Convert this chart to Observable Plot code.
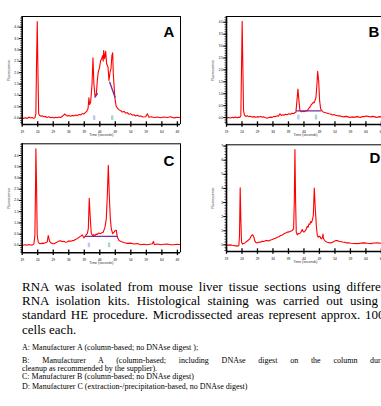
<!DOCTYPE html>
<html><head><meta charset="utf-8">
<script src="https://cdn.jsdelivr.net/npm/d3@7"></script>
<script src="https://cdn.jsdelivr.net/npm/@observablehq/plot@0.6"></script>
<style>
html,body{margin:0;padding:0;background:#fff;width:381px;height:406px;overflow:hidden}
#root{position:relative;width:440px;height:406px}
.p{position:absolute}
.txt{position:absolute;left:22px;width:369px;font-family:"Liberation Serif","Times New Roman",serif;color:#000}
.big{font-size:13px;line-height:14.2px}
.sm{font-size:8px;line-height:8px;white-space:nowrap}
.j{text-align:justify;text-align-last:justify;white-space:normal}
</style></head>
<body><div id="root"></div>
<script>
// ---------- data ----------
const xTicks = [19, 24, 29, 34, 39, 44, 49, 54, 59, 64, 69];
const yTicksABC = [0, 0.5, 1, 1.5, 2, 2.5, 3, 3.5, 4];
const yTicksD = [0, 1, 2, 3, 4, 5, 6, 7];

const timeA = [19.0,19.6,20.1,20.7,21.2,21.7,22.2,22.7,23.1,23.4,23.6,23.85,24.05,24.3,24.6,25.0,25.45,26.0,26.5,27.0,27.6,28.2,28.7,29.2,29.75,30.3,30.8,31.4,31.9,32.3,32.65,33.1,33.5,34.0,34.6,35.2,35.7,36.2,36.75,37.3,37.8,38.4,38.9,39.3,39.75,40.2,40.5,40.7,41.05,41.5,41.8,42.1,42.45,42.9,43.2,43.5,43.95,44.25,44.6,44.9,45.1,45.25,45.55,45.9,46.2,46.65,46.95,47.3,47.6,47.9,48.15,48.35,48.7,48.9,49.3,49.85,50.3,50.7,51.2,51.8,52.4,52.9,53.4,53.95,54.5,55.0,55.5,56.1,56.6,57.2,58.0,58.8,59.3,59.85,60.6,61.5,62.5,63.6,64.6,65.8,66.8,67.9,69.0,70.0];
const fluorA = [-0.03,0.0,0.02,-0.01,0.05,0.01,0.03,-0.01,0.02,0.19,2.24,4.25,2.24,0.19,0.12,0.08,0.10,0.06,0.07,0.03,0.06,0.02,0.04,0.01,0.04,0.02,0.05,0.03,0.08,0.12,0.18,0.14,0.09,0.12,0.08,0.12,0.10,0.14,0.11,0.16,0.14,0.20,0.18,0.24,0.29,0.41,0.89,0.6,0.70,1.51,2.65,1.51,0.98,1.07,1.66,2.02,2.24,2.53,2.61,2.75,2.5,2.97,2.61,2.94,2.39,2.24,1.66,2.02,2.17,2.75,2.87,1.95,1.22,0.85,0.51,0.41,0.36,0.33,0.27,0.29,0.22,0.24,0.17,0.19,0.13,0.15,0.10,0.13,0.08,0.09,0.05,0.06,0.19,0.04,0.06,0.03,0.05,0.02,0.05,0.03,0.06,0.01,0.04,0.02];

const timeB = [19.0,19.6,20.3,20.9,21.37,21.9,22.45,22.9,23.3,23.63,23.85,24.06,24.28,24.5,24.8,25.2,25.7,26.2,26.76,27.3,27.84,28.4,28.9,29.4,30.0,30.5,31.07,31.6,32.15,32.7,33.22,33.8,34.3,34.8,35.38,35.8,36.24,36.67,37.1,37.53,38.0,38.6,39.1,39.7,40.2,40.77,41.1,41.4,41.74,42.06,42.38,42.7,43.14,43.6,44.0,44.5,45.08,45.72,46.1,46.37,46.7,47.0,47.3,47.56,47.88,48.2,48.42,48.74,49.06,49.4,49.93,50.2,50.47,51.0,51.54,52.1,52.62,53.2,53.7,54.2,54.78,55.3,55.85,56.4,56.93,57.5,58.0,58.5,59.09,59.6,60.16,60.7,61.24,61.8,62.32,62.9,63.4,63.9,64.47,65.0,65.55,66.1,66.63,67.2,67.7,68.3,69.0,70.0];
const fluorB = [-0.03,0.0,-0.02,0.01,-0.01,0.02,-0.01,0.01,0.01,0.08,2.11,4.04,2.11,0.29,0.10,0.05,0.08,0.04,0.06,0.02,0.04,0.01,0.04,0.02,0.05,0.02,0.03,-0.01,-0.03,0.0,0.02,0.01,0.05,0.04,0.08,0.06,0.16,0.09,0.12,0.10,0.14,0.12,0.16,0.14,0.18,0.17,0.21,0.22,0.71,1.20,0.71,0.29,0.24,0.27,0.25,0.28,0.29,0.41,0.47,0.55,0.58,0.64,0.62,0.71,0.85,1.41,1.94,1.55,0.71,0.36,0.27,0.24,0.22,0.20,0.18,0.16,0.15,0.11,0.13,0.10,0.08,0.07,0.06,0.04,0.03,0.05,0.04,0.02,0.01,0.03,0.01,0.03,0.04,0.02,0.01,0.04,0.04,0.06,0.06,0.04,0.03,0.05,0.04,0.02,0.01,0.04,0.03,0.01];

const timeC = [19.0,19.5,20.08,20.6,21.15,21.7,22.23,22.76,23.09,23.3,23.41,23.62,23.84,24.16,24.5,24.91,25.4,25.99,26.5,27.06,27.39,27.82,28.35,28.8,29.2,29.7,30.3,30.8,31.37,31.9,32.44,33.0,33.5,34.0,34.6,35.1,35.67,36.2,36.74,37.3,37.82,38.35,38.9,39.43,39.97,40.3,40.6,40.94,41.26,41.69,42.0,42.33,42.8,43.19,43.7,44.27,44.7,45.13,45.67,46.1,46.42,46.74,47.06,47.39,47.7,48.14,48.57,49.0,49.32,49.65,50.18,50.7,51.26,52.0,52.87,53.9,55.02,56.1,57.17,58.2,59.32,60.1,60.94,61.26,61.58,62.6,63.62,64.7,65.77,66.8,67.92,69.0,70.0];
const fluorC = [0.0,0.02,0.03,0.01,0.04,0.02,0.01,0.07,0.44,2.67,4.30,2.67,0.44,0.15,0.09,0.07,0.10,0.09,0.12,0.15,0.44,0.18,0.10,0.08,0.07,0.11,0.15,0.19,0.21,0.16,0.18,0.14,0.15,0.20,0.18,0.21,0.22,0.27,0.30,0.36,0.40,0.47,0.33,0.44,0.52,0.74,2.10,1.19,0.52,0.44,0.48,0.41,0.50,0.49,0.55,0.52,0.57,0.59,0.81,1.19,2.22,3.56,2.22,1.19,0.74,0.52,0.59,0.67,0.67,0.37,0.22,0.18,0.15,0.12,0.09,0.10,0.06,0.08,0.03,0.05,0.03,0.05,0.07,0.18,0.04,0.06,0.03,0.05,0.06,0.03,0.03,0.05,0.03];

const timeD = [19.0,19.6,20.3,20.8,21.37,21.9,22.45,22.99,23.2,23.42,23.63,23.85,24.17,24.5,24.82,25.2,25.47,25.9,26.2,26.54,26.8,27.08,27.51,27.84,28.1,28.38,28.91,29.4,29.99,30.5,31.07,31.6,32.15,32.7,33.22,33.8,34.3,34.8,35.38,35.9,36.46,37.0,37.53,38.1,38.61,39.2,39.69,40.23,40.66,40.88,41.09,41.31,41.52,41.85,42.1,42.38,42.92,43.2,43.46,43.7,44.0,44.54,45.08,45.35,45.62,45.9,46.16,46.4,46.69,47.02,47.34,47.66,47.99,48.31,48.63,48.9,49.17,49.45,49.71,50.0,50.14,50.3,50.47,51.0,51.54,52.1,52.62,53.2,53.7,54.2,54.78,55.3,55.85,56.4,56.93,57.5,58.0,58.5,59.09,60.1,61.24,62.3,63.4,64.5,65.55,66.6,67.7,68.8,70.0];
const fluorD = [-0.05,-0.02,0.0,-0.03,-0.05,-0.07,-0.09,-0.05,0.66,4.04,1.84,0.19,0.07,0.10,0.12,0.18,0.24,0.31,0.36,0.43,0.55,0.66,0.71,0.54,0.30,0.19,0.14,0.20,0.19,0.26,0.24,0.30,0.31,0.28,0.35,0.38,0.43,0.47,0.54,0.58,0.66,0.70,0.78,0.84,0.90,0.92,0.97,1.02,1.13,3.03,6.76,3.03,0.90,0.71,0.80,0.78,0.85,0.98,1.09,0.95,0.90,1.02,1.32,1.25,1.49,1.45,1.65,1.58,1.73,2.08,4.02,2.55,1.37,0.66,0.54,0.62,0.59,0.45,0.43,0.55,0.76,0.45,0.38,0.24,0.19,0.16,0.14,0.18,0.24,0.30,0.31,0.26,0.24,0.20,0.19,0.16,0.14,0.15,0.12,0.10,0.09,0.12,0.14,0.11,0.09,0.13,0.14,0.11,0.12];

// peak-baseline segments (time, fluorescence)
const purpleA = [[[42.45, 0.92], [43.2, 1.07]], [[47.2, 1.58], [48.9, 0.92]]];
const purpleB = [[[41.6, 0.28], [49.4, 0.28]]];
const purpleC = [[[39.4, 0.40], [49.65, 0.40]]];
const purpleD = [];
// fragment markers (lower = lavender, upper = teal), in seconds
const markersA = [42.2, 48.0];
const markersB = [42.2, 47.9];
const markersC = [40.5, 47.0];
const markersD = [];

const captionBig = [
  "RNA was isolated from mouse liver tissue sections using different",
  "RNA isolation kits. Histological staining was carried out using a",
  "standard HE procedure. Microdissected areas represent approx. 1000",
  "cells each."
];
const captionSmall = [
  "A: Manufacturer A (column-based; no DNAse digest );",
  "B: Manufacturer A (column-based; including DNAse digest on the column during",
  "cleanup as recommended by the supplier).",
  "C: Manufacturer B (column-based; no DNAse digest)",
  "D: Manufacturer C (extraction-/precipitation-based, no DNAse digest)"
];

// ---------- drawing ----------
const root = document.getElementById("root");
const markerColors = ["#c4c4f2", "#9fd8cf"];

function panel(c) {
  const data = c.t.map((t, i) => ({t, v: c.v[i]}));
  const segs = c.purple.flatMap((s, k) => s.map(([t, v]) => ({k, t, v})));
  const mk = c.markers.map((t, i) => ({t, color: markerColors[i]}));
  const minor = d3.range(Math.ceil(c.yDomain[0] / c.minor) * c.minor, c.yDomain[1], c.minor)
    .map(d => +d.toFixed(3));
  const fig = Plot.plot({
    width: c.width, height: c.height,
    marginLeft: c.ml, marginRight: c.mr, marginTop: c.mt, marginBottom: c.mb,
    style: {background: "transparent", overflow: "visible", maxWidth: "none", fontFamily: "Liberation Sans, Arial, sans-serif"},
    x: {domain: [19, 70]},
    y: {domain: c.yDomain},
    marks: [
      Plot.ruleX(mk, {x: "t", y1: -0.1, y2: 0.1, stroke: "color", strokeWidth: 2.4}),
      Plot.line(data, {x: "t", y: "v", stroke: "#ff0000", strokeWidth: 1.1}),
      Plot.line(segs, {x: "t", y: "v", z: "k", stroke: "#7a2e9e", strokeWidth: 1.4}),
      Plot.ruleX([19], {stroke: "#000", strokeWidth: 1.6}),
      Plot.ruleY([c.yDomain[0]], {stroke: "#000", strokeWidth: 1.6}),
      Plot.ruleX([70], {stroke: "#000", strokeWidth: 1}),
      Plot.ruleY([c.yDomain[1]], {stroke: "#000", strokeWidth: 1}),
      Plot.axisX({ticks: xTicks, tickSize: 5.5, dy: -2.7, tickPadding: 3, fontSize: 3.2, strokeWidth: 1.3, tickFormat: d => String(d), label: null}),
      Plot.axisY({ticks: minor, tickSize: 2.5, dx: 1, tickFormat: () => "", strokeWidth: 0.7, label: null}),
      Plot.axisY({ticks: c.yTicks, tickSize: 4, dx: 1.2, tickPadding: 0.6, fontSize: 3.2, strokeWidth: 1, tickFormat: c.fmt, label: null}),
      Plot.text(["Fluorescence"], {text: d => d, frameAnchor: "left", textAnchor: "middle", rotate: -90, dx: -13.5, fontSize: 3.5, fill: "#333"}),
      Plot.text(["Time (seconds)"], {text: d => d, frameAnchor: "bottom", textAnchor: "middle", dy: 11, fontSize: 3.5, fill: "#333"}),
      Plot.text([c.letter], {text: d => d, frameAnchor: "top-right", textAnchor: "middle", lineAnchor: "middle", dx: c.ldx, dy: c.ldy, fontSize: 15, fontWeight: "bold", fill: "#000"})
    ]
  });
  fig.classList.add("p");
  fig.style.left = c.left + "px";
  fig.style.top = c.top + "px";
  root.appendChild(fig);
}

const f1 = d => d.toFixed(1);
const f0 = d => String(d);
panel({letter: "A", t: timeA, v: fluorA, yDomain: [-0.28, 4.47], yTicks: yTicksABC, fmt: f1, minor: 0.1, purple: purpleA, markers: markersA,
  left: 0, top: 0, width: 190, height: 140, ml: 21.7, mr: 10, mt: 16, mb: 16, ldx: -11.5, ldy: 16});
panel({letter: "B", t: timeB, v: fluorB, yDomain: [-0.29, 4.24], yTicks: yTicksABC, fmt: f1, minor: 0.1, purple: purpleB, markers: markersB,
  left: 190, top: 0, width: 200, height: 140, ml: 36, mr: 6, mt: 16, mb: 16, ldx: -10.5, ldy: 15.5});
panel({letter: "C", t: timeC, v: fluorC, yDomain: [-0.33, 4.52], yTicks: yTicksABC, fmt: f1, minor: 0.1, purple: purpleC, markers: markersC,
  left: 0, top: 135, width: 190, height: 135, ml: 21.7, mr: 10, mt: 8.3, mb: 17.7, ldx: -11.5, ldy: 17.2});
panel({letter: "D", t: timeD, v: fluorD, yDomain: [-0.47, 7.09], yTicks: yTicksD, fmt: f0, minor: 0.2, purple: purpleD, markers: markersD,
  left: 190, top: 135, width: 200, height: 135, ml: 36, mr: 6, mt: 9.3, mb: 19, ldx: -9.5, ldy: 13.2});

// caption
const big = document.createElement("div");
big.className = "txt big";
big.style.top = "280px";
captionBig.forEach((s, i) => {
  const d = document.createElement("div");
  if (i < captionBig.length - 1) d.className = "j";
  d.textContent = s;
  big.appendChild(d);
});
root.appendChild(big);
const smallTops = [344.3, 357.3, 365.3, 373.4, 382.8];
captionSmall.forEach((s, i) => {
  const d = document.createElement("div");
  d.className = "txt sm" + (i === 1 ? " j" : "");
  d.style.top = smallTops[i] + "px";
  d.textContent = s;
  root.appendChild(d);
});
</script></body></html>
